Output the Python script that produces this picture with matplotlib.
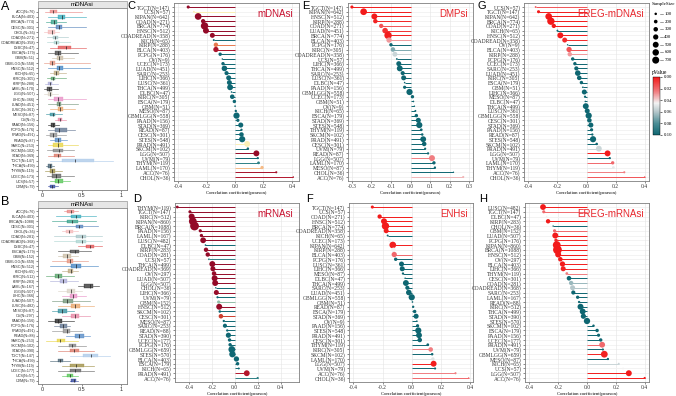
import numpy as np
import matplotlib
matplotlib.use('Agg')
import matplotlib.pyplot as plt
from matplotlib.colors import LinearSegmentedColormap, Normalize
from matplotlib.patches import Rectangle
from matplotlib.ticker import FormatStrFormatter
import matplotlib.colorbar as mcolorbar

W, H = 676, 396
fig = plt.figure(figsize=(W / 100, H / 100), dpi=100)
SERIF = 'Liberation Serif'
SANS = 'Liberation Sans'

# ---------------- data: boxplots A (mDNAsi) and B (mRNAsi) ----------------
a_types = ['ACC','BLCA','BRCA','CESC','CHOL','COAD','COADREAD','DLBC','ESCA','GBM','GBMLGG','HNSC','KICH','KIRC','KIRP',
           'LAML','LGG','LIHC','LUAD','LUSC','MESO','OV','PAAD','PCPG','PRAD','READ','SARC','SKCM','STAD','TGCT','THCA',
           'THYM','UCEC','UCS','UVM']
a_n = [76,403,774,301,36,271,358,47,179,51,558,512,65,305,288,170,507,366,451,361,87,9,156,176,491,87,253,102,369,147,499,119,173,57,79]
a_q1 = [0.10,0.20,0.115,0.18,0.075,0.145,0.15,0.20,0.165,0.185,0.095,0.185,0.15,0.115,0.08,0.06,0.08,0.15,0.185,0.20,0.10,0.20,0.115,0.165,0.10,0.165,0.145,0.145,0.155,0.25,0.08,0.095,0.13,0.165,0.10]
a_med = [0.14,0.25,0.15,0.21,0.12,0.17,0.175,0.30,0.20,0.22,0.13,0.22,0.18,0.14,0.105,0.09,0.10,0.20,0.215,0.23,0.135,0.225,0.14,0.22,0.135,0.20,0.20,0.21,0.20,0.42,0.10,0.13,0.18,0.20,0.125]
a_q3 = [0.185,0.29,0.185,0.25,0.165,0.205,0.21,0.37,0.245,0.27,0.165,0.27,0.21,0.165,0.13,0.125,0.13,0.27,0.245,0.26,0.17,0.25,0.165,0.31,0.185,0.245,0.27,0.27,0.245,0.66,0.125,0.165,0.24,0.27,0.165]
a_lo = [0.04,0.08,0.05,0.07,0.03,0.06,0.06,0.10,0.08,0.12,0.03,0.07,0.10,0.06,0.04,0.02,0.03,0.07,0.08,0.10,0.05,0.16,0.07,0.07,0.05,0.10,0.07,0.06,0.08,0.10,0.05,0.04,0.06,0.10,0.08]
a_hi = [0.50,0.55,0.30,0.55,0.22,0.33,0.35,0.55,0.45,0.40,0.60,0.60,0.30,0.30,0.20,0.20,0.20,0.55,0.45,0.42,0.25,0.30,0.22,0.42,0.30,0.32,0.45,0.40,0.40,0.90,0.15,0.25,0.40,0.35,0.20]

b_types = a_types
b_n = [76,403,1088,301,36,281,368,47,179,152,659,512,65,512,283,167,507,366,507,482,87,297,156,176,491,88,253,102,390,147,499,119,177,57,79]
b_q1 = [0.32,0.37,0.31,0.43,0.30,0.43,0.43,0.56,0.35,0.26,0.31,0.36,0.33,0.16,0.23,0.53,0.32,0.35,0.27,0.37,0.20,0.37,0.16,0.23,0.27,0.41,0.19,0.34,0.35,0.51,0.20,0.35,0.35,0.31,0.37]
b_med = [0.36,0.43,0.38,0.47,0.34,0.50,0.50,0.61,0.41,0.31,0.35,0.43,0.36,0.20,0.27,0.60,0.37,0.39,0.32,0.42,0.25,0.42,0.20,0.27,0.31,0.47,0.23,0.38,0.40,0.62,0.23,0.43,0.41,0.35,0.40]
b_q3 = [0.40,0.49,0.45,0.51,0.39,0.56,0.56,0.66,0.47,0.37,0.39,0.49,0.39,0.25,0.31,0.64,0.41,0.44,0.39,0.48,0.31,0.47,0.25,0.31,0.35,0.53,0.29,0.43,0.47,0.70,0.27,0.53,0.49,0.39,0.43]
b_lo = [0.28,0.18,0.12,0.20,0.25,0.15,0.15,0.45,0.20,0.20,0.12,0.10,0.25,0.05,0.10,0.45,0.20,0.25,0.12,0.20,0.12,0.25,0.08,0.15,0.12,0.30,0.05,0.20,0.20,0.35,0.10,0.25,0.20,0.25,0.35]
b_hi = [0.45,0.68,0.68,0.70,0.45,0.75,0.75,0.75,0.62,0.45,0.58,0.70,0.45,0.40,0.45,0.72,0.50,0.55,0.60,0.65,0.40,0.60,0.40,0.35,0.50,0.60,0.45,0.55,0.65,0.85,0.35,0.65,0.65,0.45,0.45]

type_colors = {
    'ACC':'#E8817F','BLCA':'#2BA6B8','BRCA':'#2E9C84','CESC':'#4A7BB7','CHOL':'#F4B6B6','COAD':'#A3C4C6',
    'COADREAD':'#A9D3D0','DLBC':'#E04B4B','ESCA':'#3F3F3F','GBM':'#C7B9A0','GBMLGG':'#E48E79','HNSC':'#3C7FBF',
    'KICH':'#B9A579','KIRC':'#4D9E62','KIRP':'#A8A9D6','LAML':'#2B2B2B','LGG':'#D9D2C5','LIHC':'#E78AC3',
    'LUAD':'#6B8F71','LUSC':'#E8A062','MESO':'#2B8C9A','OV':'#E57F9E','PAAD':'#1A1A1A','PCPG':'#5A6F8C',
    'PRAD':'#8A8A8A','READ':'#4C84C4','SARC':'#E6D23A','SKCM':'#7D7D7D','STAD':'#D96F5E','TGCT':'#A9C8E8',
    'THCA':'#3D5A6C','THYM':'#9A8A3C','UCEC':'#5A5A5A','UCS':'#4CC24C','UVM':'#283D99'}

# ---------------- data: lollipops C-H ----------------
c_types = ['TGCT','UCS','KIPAN','COAD','BRCA','HNSC','COADREAD','KICH','KIRP','BLCA','PCPG','OV','UCEC','LUAD','SARC','LIHC',
           'LUSC','THCA','DLBC','KIRC','ESCA','GBM','MESO','GBMLGG','PAAD','STAD','READ','CESC','STES','PRAD','SKCM','LGG',
           'UVM','THYM','LAML','ACC','CHOL']
c_n = [147,57,642,271,774,512,358,65,288,403,176,9,173,451,253,366,361,499,47,305,179,51,87,558,156,369,87,301,548,491,102,507,79,119,170,76,36]
c_r = [-0.33,-0.29,-0.26,-0.225,-0.215,-0.205,-0.16,-0.15,-0.135,-0.135,-0.105,-0.09,-0.085,-0.075,-0.06,-0.045,-0.04,
       -0.035,-0.025,-0.02,-0.005,0.0,0.005,0.01,0.02,0.04,0.045,0.045,0.05,0.085,0.09,0.15,0.16,0.165,0.19,0.29,0.41]
c_p = [0.0001,0.06,0,0.0002,0,0,0.003,0.3,0.04,0.015,0.2,0.8,0.3,0.1,0.4,0.4,0.45,0.45,0.9,0.7,0.95,0.99,0.95,0.8,0.8,
       0.45,0.7,0.45,0.25,0.06,0.35,0.001,0.18,0.09,0.05,0.012,0.02]

d_types = ['THYM','TGCT','KIRC','KIPAN','BRCA','PAAD','LAML','LUSC','DLBC','KIRP','COAD','UCS','THCA','COADREAD','OV','LUAD',
           'LGG','CHOL','LIHC','UVM','GBM','HNSC','SKCM','CESC','MESO','SARC','READ','STAD','UCEC','PCPG','GBMLGG','STES',
           'BLCA','ESCA','KICH','PRAD','ACC']
d_n = [119,147,512,860,1088,156,167,482,47,283,281,57,499,369,297,507,507,36,366,79,152,512,102,301,87,253,88,390,177,176,659,570,403,179,65,491,76]
d_r = [-0.50,-0.39,-0.375,-0.365,-0.35,-0.30,-0.29,-0.275,-0.255,-0.25,-0.235,-0.225,-0.195,-0.19,-0.18,-0.175,-0.17,
       -0.165,-0.16,-0.15,-0.14,-0.135,-0.13,-0.12,-0.095,-0.085,-0.065,-0.055,-0.045,-0.04,-0.025,-0.02,0.015,0.025,
       0.035,0.105,0.2]
d_p = [0,0,0,0,0,0.0002,0.0001,0,0.1,0,0.0001,0.09,0,0.0003,0.002,0,0,0.35,0.003,0.2,0.07,0.002,0.19,0.03,0.4,0.2,
       0.55,0.3,0.55,0.6,0.55,0.65,0.75,0.75,0.8,0.02,0.09]

e_types = ['TGCT','KIPAN','HNSC','KIRP','COAD','LUAD','BRCA','BLCA','PCPG','KIRC','COADREAD','UCS','LIHC','THCA','SARC',
           'LUSC','DLBC','PAAD','GBMLGG','UCEC','GBM','OV','KICH','ESCA','STAD','STES','THYM','SKCM','PRAD','CESC','UVM',
           'READ','LGG','LAML','MESO','CHOL','ACC']
e_n = [147,642,512,288,271,451,774,403,176,305,358,57,366,499,253,361,47,156,558,173,51,9,65,179,369,548,119,102,491,301,79,87,507,170,87,36,76]
e_r = [-0.30,-0.24,-0.185,-0.18,-0.15,-0.13,-0.115,-0.11,-0.10,-0.09,-0.08,-0.07,-0.06,-0.055,-0.04,-0.035,-0.03,-0.03,
       -0.005,0.01,0.015,0.02,0.025,0.03,0.04,0.045,0.055,0.06,0.065,0.07,0.075,0.09,0.11,0.12,0.125,0.22,0.27]
e_p = [0.0002,0,0,0.002,0.015,0.006,0.001,0.03,0.2,0.07,0.055,0.6,0.25,0.22,0.5,0.5,0.85,0.7,0.9,0.9,0.92,0.96,0.85,
       0.7,0.45,0.3,0.55,0.55,0.15,0.22,0.5,0.4,0.025,0.12,0.25,0.2,0.035]

f_types = ['TGCT','UCS','COAD','HNSC','BRCA','COADREAD','KICH','UCEC','KIPAN','KIRP','BLCA','PCPG','LUSC','LIHC','MESO',
           'DLBC','THCA','SARC','LUAD','GBMLGG','GBM','READ','ESCA','STAD','OV','PAAD','STES','PRAD','CESC','THYM','KIRC',
           'SKCM','LAML','LGG','UVM','ACC','CHOL']
f_n = [147,57,271,512,774,358,65,173,642,288,403,176,361,366,87,47,499,253,451,558,51,87,179,369,9,156,548,491,301,119,305,102,170,507,79,76,36]
f_r = [-0.27,-0.25,-0.22,-0.19,-0.18,-0.175,-0.165,-0.15,-0.13,-0.125,-0.12,-0.11,-0.07,-0.065,-0.06,-0.045,-0.04,-0.03,
       -0.02,0.0,0.005,0.01,0.02,0.03,0.035,0.04,0.045,0.05,0.055,0.11,0.13,0.14,0.145,0.15,0.16,0.30,0.39]
f_p = [0.001,0.045,0.0003,0,0,0.001,0.19,0.045,0.001,0.045,0.02,0.15,0.18,0.2,0.6,0.75,0.38,0.6,0.68,0.98,0.97,0.93,
       0.8,0.55,0.93,0.62,0.3,0.27,0.35,0.23,0.025,0.16,0.05,0.001,0.16,0.025,0.02]

g_types = ['UCS','TGCT','KIPAN','BRCA','COAD','KICH','HNSC','COADREAD','OV','BLCA','KIRP','PCPG','UCEC','SARC','LUAD',
           'KIRC','ESCA','GBM','LIHC','MESO','DLBC','THCA','LUSC','GBMLGG','CESC','STAD','PAAD','READ','STES','SKCM','PRAD',
           'LGG','UVM','LAML','THYM','ACC','CHOL']
g_n = [57,147,642,774,271,65,512,358,9,403,288,176,173,253,451,305,179,51,366,87,47,499,361,558,301,369,156,87,548,102,491,507,79,170,119,76,36]
g_r = [-0.35,-0.33,-0.26,-0.245,-0.225,-0.2,-0.18,-0.15,-0.13,-0.12,-0.115,-0.095,-0.08,-0.07,-0.06,-0.05,-0.035,-0.025,
       -0.015,-0.01,-0.008,-0.005,0.005,0.015,0.02,0.03,0.035,0.04,0.045,0.07,0.085,0.145,0.16,0.18,0.185,0.26,0.40]
g_p = [0.015,0.0001,0,0,0.0002,0.11,0,0.004,0.7,0.015,0.03,0.2,0.3,0.27,0.2,0.4,0.65,0.88,0.78,0.93,0.96,0.91,0.92,
       0.72,0.73,0.56,0.66,0.7,0.29,0.48,0.055,0.001,0.16,0.02,0.048,0.025,0.015]

h_types = ['LUSC','TGCT','DLBC','KIRP','CHOL','GBM','LUAD','PCPG','KIPAN','BRCA','HNSC','OV','BLCA','LIHC','THYM','CESC',
           'COAD','COADREAD','SARC','LAML','READ','KIRC','THCA','STAD','STES','SKCM','ESCA','PAAD','UCEC','PRAD','UVM',
           'GBMLGG','MESO','KICH','UCS','LGG','ACC']
h_n = [482,147,47,283,36,152,507,176,860,1088,512,297,403,366,119,301,281,368,253,167,88,512,499,390,570,102,179,156,177,491,79,659,87,65,57,507,76]
h_r = [-0.305,-0.30,-0.28,-0.27,-0.235,-0.225,-0.22,-0.215,-0.21,-0.205,-0.2,-0.185,-0.17,-0.165,-0.14,-0.125,-0.11,
       -0.1,-0.095,-0.065,-0.055,-0.045,-0.03,-0.025,0.0,0.045,0.07,0.08,0.095,0.105,0.11,0.12,0.145,0.22,0.25,0.29,0.40]
h_p = [0,0.02,0.045,0.0001,0.17,0.02,0,0.004,0,0,0,0.001,0.0006,0.002,0.025,0.1,0.065,0.06,0.13,0.4,0.6,0.31,0.5,0.62,
       0.99,0.65,0.35,0.32,0.21,0.02,0.33,0.002,0.18,0.055,0.045,0,0.0005]

size_legend = [100, 200, 300, 400, 500, 600, 700]
p_ticks = [0.00, 0.02, 0.04, 0.06, 0.08, 0.10]

# ---------------- styles ----------------
cmap_cd = LinearSegmentedColormap.from_list('cd', [(0, '#930A28'), (0.2, '#B3162C'), (0.35, '#D9532F'),
                                                  (0.45, '#F3A06E'), (0.6, '#FBEFB5'), (0.75, '#5FA8A2'), (1, '#0F6773')])
cmap_pv = LinearSegmentedColormap.from_list('pv', [(0, '#F21A1A'), (0.25, '#F07C80'), (0.45, '#F2F2F2'),
                                                  (0.6, '#B5C7CB'), (0.8, '#4C8E96'), (1, '#0E6671')])


def ax_px(l, t, r, b):
    return fig.add_axes([l / W, 1 - b / H, (r - l) / W, (b - t) / H])


def dot_size(ns):
    ns = np.asarray(ns, dtype=float)
    d2 = np.maximum(2.0, 0.0713 * ns - 0.88)   # diameter^2 in px
    return d2 * 0.5184                          # points^2


def style_spines(ax):
    for s in ax.spines.values():
        s.set_color('#7F7F7F')
        s.set_linewidth(0.6)


def lolli(box, types, ns, rs, ps, cmap, xlim, xticks, title, tcolor, letter, lxy):
    l, t, r, b = box
    ax = ax_px(l, t, r, b)
    n = len(types)
    y = np.arange(n)
    cols = cmap(np.clip(np.asarray(ps) / 0.1, 0, 1))
    for yi in y:
        ax.axhline(yi, color='#EBEBEB', lw=0.4, zorder=0)
    for xt in xticks:
        ax.axvline(xt, color='#E3E3E3', lw=0.4, zorder=0)
    ax.hlines(y, 0, rs, colors=cols, lw=0.7, zorder=2)
    ax.scatter(rs, y, s=dot_size(ns), c=cols, edgecolors='none', zorder=3)
    ax.set_ylim(n - 1 + 0.85, -0.85)
    ax.set_xlim(*xlim)
    ax.set_xticks(xticks)
    ax.xaxis.set_major_formatter(FormatStrFormatter('%.1f'))
    ax.set_yticks(y)
    ax.set_yticklabels([f'{tp}(N={k})' for tp, k in zip(types, ns)], fontsize=4, family=SERIF)
    for lab in ax.get_xticklabels():
        lab.set_fontsize(4)
        lab.set_family(SERIF)
    ax.tick_params(length=1.5, width=0.4, pad=1, colors='#333333')
    ax.set_xlabel('Correlation coefficient(pearson)', fontsize=3.4, family=SERIF, labelpad=1)
    style_spines(ax)
    ax.annotate(title, xy=(1, 1), xycoords='axes fraction', xytext=(-4, -4), textcoords='offset points',
                ha='right', va='top', color=tcolor, fontsize=7, family=SANS)
    fig.text(lxy[0] / W, 1 - lxy[1] / H, letter, fontsize=8, ha='left', va='top', family=SANS)
    return ax


def boxpanel(box, types, ns, q1, med, q3, lo, hi, title, letter, lxy):
    l, t, r, b = box
    ax = ax_px(l, t, r, b)
    n = len(types)
    stats = [dict(med=m, q1=a, q3=c, whislo=w1, whishi=w2, fliers=[])
             for a, m, c, w1, w2 in zip(q1, med, q3, lo, hi)]
    bp = ax.bxp(stats, positions=np.arange(n), orientation='horizontal', widths=0.7,
                patch_artist=True, showfliers=False, showcaps=False)
    for i, tp in enumerate(types):
        c = type_colors[tp]
        bp['boxes'][i].set_facecolor(c)
        bp['boxes'][i].set_alpha(0.75)
        bp['boxes'][i].set_edgecolor(c)
        bp['boxes'][i].set_linewidth(0.3)
        bp['medians'][i].set_color('#222222')
        bp['medians'][i].set_linewidth(0.5)
        for w in bp['whiskers'][2 * i:2 * i + 2]:
            w.set_color(c)
            w.set_linewidth(0.5)
            w.set_alpha(0.8)
    ax.set_ylim(n - 1 + 0.7, -0.7)
    ax.set_xlim(-0.05, 1.07)
    ax.set_xticks([0, 0.5, 1])
    ax.set_xticklabels(['0', '0.5', '1'], fontsize=4, family=SANS)
    ax.set_yticks(np.arange(n))
    ax.set_yticklabels([f'{tp}(N={k})' for tp, k in zip(types, ns)], fontsize=2.7, family=SANS)
    ax.tick_params(length=1.2, width=0.4, pad=0.8, colors='#333333')
    ax.tick_params(axis='x', pad=0.8)
    style_spines(ax)
    strip = Rectangle((l / W, 1 - t / H), (r - l) / W, 7 / H, transform=fig.transFigure,
                      facecolor='#E6E6E6', edgecolor='#7F7F7F', lw=0.4)
    fig.add_artist(strip)
    fig.text((l + r) / 2 / W, 1 - (t - 3.5) / H, title, ha='center', va='center', fontsize=4.5, family=SANS)
    fig.text(lxy[0] / W, 1 - lxy[1] / H, letter, fontsize=9, ha='left', va='top', family=SANS)
    return ax


boxpanel((38, 8, 127, 190), a_types, a_n, a_q1, a_med, a_q3, a_lo, a_hi, 'mDNAsi', 'A', (1, 1))
boxpanel((38, 208, 127, 384), b_types, b_n, b_q1, b_med, b_q3, b_lo, b_hi, 'mRNAsi', 'B', (1, 196))

red1 = '#C8102E'
red2 = '#E8262C'
lolli((174, 3, 299, 181), c_types, c_n, c_r, c_p, cmap_cd, (-0.43, 0.45), [-0.4, -0.2, 0.0, 0.2, 0.4],
      'mDNAsi', red1, 'C', (127, 1))
lolli((175, 203, 299, 382), d_types, d_n, d_r, d_p, cmap_cd, (-0.52, 0.56), [-0.4, -0.2, 0.0, 0.2, 0.4],
      'mRNAsi', red1, 'D', (133, 194))
lolli((348, 3, 473, 181), e_types, e_n, e_r, e_p, cmap_pv, (-0.32, 0.32), [-0.3, -0.2, -0.1, 0.0, 0.1, 0.2, 0.3],
      'DMPsi', red2, 'E', (302, 1))
lolli((349, 203, 473, 382), f_types, f_n, f_r, f_p, cmap_pv, (-0.43, 0.42), [-0.4, -0.2, 0.0, 0.2, 0.4],
      'ENHsi', red2, 'F', (306, 194))
lolli((524, 3, 649, 181), g_types, g_n, g_r, g_p, cmap_pv, (-0.43, 0.43), [-0.4, -0.2, 0.0, 0.2, 0.4],
      'EREG-mDNAsi', red2, 'G', (477, 1))
lolli((525, 203, 649, 382), h_types, h_n, h_r, h_p, cmap_pv, (-0.43, 0.43), [-0.4, -0.2, 0.0, 0.2, 0.4],
      'EREG-mRNAsi', red2, 'H', (479, 194))

# ---------------- legends ----------------
lg = ax_px(650, 10, 676, 64)
lg.set_xlim(0, 1)
lg.set_ylim(len(size_legend) - 0.5, -0.5)
lg.axis('off')
ly = np.arange(len(size_legend))
lg.scatter(np.full(len(ly), 0.22), ly, s=dot_size(size_legend), c='black', edgecolors='none', clip_on=False)
for yi, v in zip(ly, size_legend):
    lg.plot([0.4, 0.5], [yi, yi], color='#555555', lw=0.4)
    lg.text(0.55, yi, str(v), fontsize=3.5, family=SERIF, va='center', ha='left')
fig.text(652 / W, 1 - 2 / H, 'SampleSize', fontsize=3.6, family=SERIF, va='top', ha='left')

fig.text(652 / W, 1 - 70 / H, 'pValue', fontsize=4, family=SERIF, va='top', ha='left')
cax = ax_px(653, 77, 660, 135)
cb = mcolorbar.ColorbarBase(cax, cmap=cmap_pv, norm=Normalize(0, 0.1), orientation='vertical')
cb.set_ticks(p_ticks)
cb.set_ticklabels([f'{v:.2f}' for v in p_ticks])
cax.invert_yaxis()
cax.tick_params(labelsize=3.5, length=1.5, width=0.4, pad=1)
for lab in cax.get_yticklabels():
    lab.set_family(SERIF)
cb.outline.set_linewidth(0.3)

fig.savefig('out.png', dpi=100)
